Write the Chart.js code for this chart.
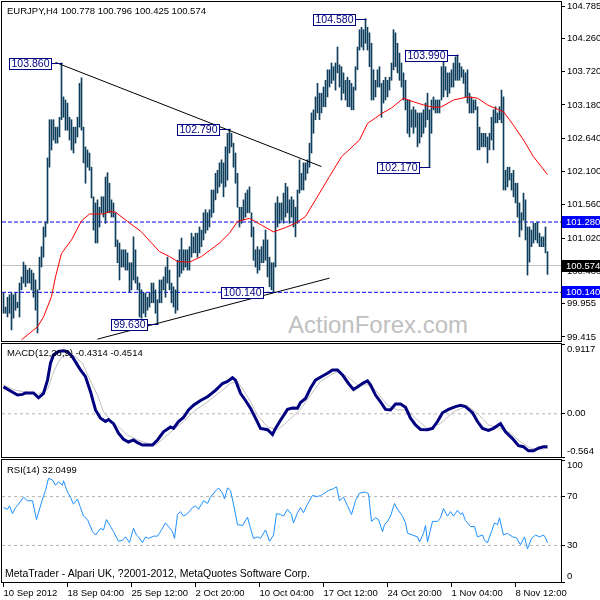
<!DOCTYPE html>
<html>
<head>
<meta charset="utf-8">
<script src="https://cdn.jsdelivr.net/npm/chart.js@4.4.1/dist/chart.umd.min.js"></script>
<style>
html, body { margin: 0; padding: 0; width: 600px; height: 600px; overflow: hidden; background: #fff; }
body { position: relative; font-family: "Liberation Sans", Arial, sans-serif; }
canvas { position: absolute; left: 0; top: -10px; }
.t { position: absolute; font-size: 9.5px; line-height: 12px; color: #000; white-space: pre; }
.wm { position: absolute; left: 288px; top: 313px; font-size: 24px; line-height: 24px; color: #c0c0c0; white-space: pre; }
</style>
</head>
<body>
<div class="wm">ActionForex.com</div>
<canvas id="cPrice" width="600" height="620"></canvas>
<canvas id="cMacd" width="600" height="620"></canvas>
<canvas id="cRsi" width="600" height="620"></canvas>
<div class="t" style="left:7px;top:5px">EURJPY,H4 100.778 100.796 100.425 100.574</div>
<div class="t" style="left:7px;top:347px">MACD(12,26,9) -0.4314 -0.4514</div>
<div class="t" style="left:7px;top:464px">RSI(14) 32.0499</div>
<div class="t" style="left:5px;top:567px;font-size:10.5px">MetaTrader - Alpari UK, ?2001-2012, MetaQuotes Software Corp.</div>
<script>
// ---- data, bar index 0 = first H4 bar on screen ----
var timeBars   = [0, 32, 64, 96, 128, 160, 192, 224, 256];
var timeLabels = ['10 Sep 2012', '18 Sep 04:00', '25 Sep 12:00', '2 Oct 20:00', '10 Oct 04:00',
                  '17 Oct 12:00', '24 Oct 20:00', '1 Nov 04:00', '8 Nov 12:00'];

var barHigh = [
  100.13, 99.90,100.06,100.10,100.13,100.10,100.13, 99.98,100.29,100.39,
  100.63,100.58,100.50,100.53,100.50,100.45,100.34,100.18,100.71,100.88,
  101.20,101.28,102.32,102.94,102.94,102.94,102.82,102.82,102.98,103.86,
  103.31,103.26,103.21,102.98,102.94,102.82,102.82,102.98,103.53,103.62,
  102.82,102.50,102.45,102.40,102.17,101.69,101.59,101.64,101.52,101.69,
  101.69,102.01,102.08,101.91,101.64,101.59,101.43,100.99,100.94,100.83,
  100.83,100.83,100.78,100.62,100.62,101.04,100.83,100.39,100.29,100.18,
  100.13,100.13,100.06,100.13,100.29,100.29,100.18,100.02,100.34,100.34,
  100.39,100.55,100.71,100.50,100.29,100.23,100.18,100.66,100.83,101.02,
  100.83,100.83,100.83,100.88,101.10,101.04,101.10,101.10,101.20,101.15,
  101.43,101.48,101.43,101.48,101.80,101.80,102.07,102.12,102.24,102.29,
  102.24,102.50,102.72,102.79,102.72,102.56,102.40,102.07,101.52,101.52,
  101.64,101.75,101.80,101.85,101.43,101.20,100.83,100.88,100.83,100.88,
  100.99,101.15,100.99,100.71,100.62,100.62,101.59,101.69,101.59,101.59,
  101.75,101.91,101.85,101.64,101.69,101.64,101.52,101.80,102.29,102.07,
  102.24,102.24,102.29,102.56,103.05,103.10,103.31,103.53,103.37,103.37,
  103.47,103.58,103.75,103.75,103.86,103.80,103.86,104.12,103.83,103.80,
  103.70,103.58,103.63,103.58,103.53,103.47,103.80,104.12,104.40,104.44,
  104.40,104.58,104.44,104.35,104.18,103.75,103.58,103.75,103.80,103.53,
  103.58,103.63,103.58,103.63,103.86,104.40,104.35,104.18,104.02,103.86,
  103.70,103.58,103.26,103.26,103.10,103.15,103.10,103.05,103.05,103.05,
  103.10,103.21,103.37,103.10,103.26,103.31,103.26,103.26,103.26,103.80,
  103.91,103.80,103.70,103.70,103.75,103.86,103.96,103.99,103.86,103.80,
  103.75,103.70,103.75,103.37,103.31,103.26,103.26,103.15,102.82,102.72,
  102.72,102.72,102.66,102.72,102.98,103.10,103.15,103.05,103.15,103.42,
  103.31,102.12,102.17,102.17,102.07,102.12,101.91,101.91,101.59,101.43,
  101.75,101.64,101.20,101.20,101.15,101.26,101.26,101.28,101.10,101.04,
  101.04,101.20,100.80
];
var barLow = [
   99.80, 99.80, 99.74, 99.80, 99.53, 99.72, 99.85, 99.89, 99.74,100.18,
  100.29,100.23,100.29,100.29,100.18,100.06, 99.85, 99.48,100.18,100.55,
  100.71,101.04,101.26,102.17,102.45,102.61,102.56,102.56,102.66,102.94,
  102.98,102.77,102.77,102.61,102.45,102.40,102.56,102.66,102.82,102.77,
  102.24,101.91,102.17,102.12,101.67,101.15,100.94,100.94,101.20,101.43,
  101.36,101.26,101.43,101.43,101.36,101.36,100.88,100.62,100.34,100.55,
  100.55,100.50,100.50,100.15,100.18,100.34,100.29,100.18, 99.74, 99.72,
   99.80, 99.74, 99.85, 99.90, 99.97, 99.97, 99.80, 99.63, 99.97, 99.97,
  100.18,100.06,100.29,100.18, 99.97, 99.90, 99.80, 99.85,100.39,100.45,
  100.50,100.55,100.50,100.50,100.71,100.78,100.78,100.71,100.78,100.88,
  100.99,101.10,101.15,101.20,101.36,101.43,101.64,101.75,101.85,101.91,
  101.69,101.85,101.96,102.40,102.50,102.17,101.91,101.52,101.20,101.26,
  101.31,101.36,101.43,101.43,101.04,100.66,100.55,100.45,100.50,100.62,
  100.62,100.66,100.39,100.23,100.18,100.14,100.55,101.20,101.26,101.31,
  101.26,101.36,101.43,101.26,101.36,101.20,101.04,101.26,101.75,101.80,
  101.80,101.96,102.07,102.17,102.40,102.72,102.94,103.05,102.94,103.05,
  103.15,103.15,103.31,103.47,103.53,103.58,103.42,103.70,103.47,103.26,
  103.37,103.26,103.15,103.15,103.10,103.10,103.42,103.75,104.07,104.12,
  104.07,104.18,104.07,103.80,103.26,103.26,103.31,103.47,103.47,102.98,
  103.21,103.26,103.31,103.42,103.58,103.75,103.80,103.70,103.58,103.47,
  103.26,103.10,102.72,102.66,102.82,102.72,102.82,102.50,102.56,102.66,
  102.72,102.82,102.94,102.17,102.72,103.10,103.05,103.05,103.05,103.26,
  103.31,103.42,103.31,103.37,103.47,103.47,103.58,103.58,103.58,103.63,
  103.53,103.31,103.21,103.05,103.05,103.05,103.10,102.45,102.45,102.50,
  102.50,102.50,102.24,102.45,102.61,102.45,102.89,102.89,102.94,102.89,
  101.80,101.80,101.85,101.96,101.80,101.69,101.59,101.36,101.04,101.15,
  101.31,100.99,100.42,100.63,100.88,100.94,100.99,100.94,100.88,100.88,
  100.88,100.78,100.43
];

var maBar = [9,17,20,24,26,29,34,39,43,50,53,56,62,69,74,78,83,87,93,99,
             108,113,117,123,129,135,141,146,151,156,163,169,178,182,186,189,194,200,205,210,
             215,219,225,232,237,242,247,250,255,260,265,272];
var maVal = [99.37,99.58,99.74,100.07,100.39,100.77,100.99,101.30,101.41,101.41,
             101.45,101.44,101.29,101.12,100.94,100.80,100.72,100.64,100.63,100.72,
             100.94,101.10,101.29,101.34,101.23,101.12,101.19,101.26,101.37,101.64,
             102.02,102.34,102.61,102.88,102.97,103.04,103.13,103.29,103.23,103.18,
             103.14,103.15,103.26,103.31,103.29,103.18,103.11,103.07,102.85,102.61,
             102.34,102.05];

var trendDownBar = [26, 159], trendDownVal = [103.87, 102.18];
var trendUpBar   = [47, 163], trendUpVal   = [99.38, 100.37];
var levelLines   = [101.28, 100.14];
var lastPrice    = 100.574;

var annoBar   = [29, 113, 77, 135, 181, 227, 213];
var annoPrice = [103.86, 102.79, 99.63, 100.14, 104.58, 103.99, 102.17];
var annoText  = ['103.860', '102.790', '99.630', '100.140', '104.580', '103.990', '102.170'];

var priceTicks = [104.785, 104.260, 103.720, 103.180, 102.640, 102.100, 101.560, 101.020, 100.480, 99.955, 99.415];

var macdBar = [0,3.5,7,9.5,11,15,17.5,20,22,23.5,25,27.5,30,32,34.5,37,38.5,41,43.5,46,
               48.5,51,52.5,55,57.5,60,62.5,65,67,69.5,74.5,77,80,83.5,85,87.5,90,92.5,95,98.5,
               102,106,109.5,112,114.5,116,118.5,121,123.5,126,128.5,132,134.5,136,138.5,142,144.5,147,148.5,151,
               153.5,156,159.5,162,164.5,167,169.5,172.5,175,177.5,180,182,183.5,186,188.5,191,193.5,196,198.5,201,
               203.5,206,208.5,212,214.5,217,219.5,222.5,226,228.5,231,234.5,237,239.5,242.5,245,248.5,251,254.5,257.5,
               260,262.5,265,267.5,270,272];
var macdVal = [0.352,0.298,0.245,0.254,0.272,0.272,0.209,0.267,0.440,0.662,
               0.769,0.813,0.822,0.813,0.742,0.636,0.573,0.485,0.289,0.050,
               -0.057,-0.101,-0.075,-0.128,-0.252,-0.332,-0.368,-0.341,-0.377,-0.408,
               -0.408,-0.341,-0.235,-0.172,-0.190,-0.101,-0.048,0.050,0.112,0.174,
               0.223,0.307,0.396,0.422,0.471,0.440,0.267,0.174,0.072,-0.057,
               -0.190,-0.208,-0.270,-0.190,-0.084,0.058,0.076,0.072,0.147,0.200,
               0.334,0.440,0.494,0.529,0.573,0.573,0.507,0.396,0.316,0.360,
               0.405,0.431,0.378,0.245,0.156,0.058,0.050,0.129,0.129,0.085,
               -0.057,-0.146,-0.204,-0.208,-0.190,-0.101,0.014,0.058,0.094,0.112,
               0.094,0.014,-0.101,-0.190,-0.217,-0.190,-0.128,-0.235,-0.323,-0.417,
               -0.430,-0.483,-0.483,-0.448,-0.430,-0.4314];
var signalBar = [0,5,10,17,22,25,28.5,32.5,36,39.5,42.5,47,50,53.5,57.5,62,67,72,76,80,
                 85,90,95,102,108.5,113.5,117,120,123.5,127.5,132,137,142,148.5,153.5,158.5,163.5,167,172,177,
                 182,186,192,197,202,207,212,218.5,225,232,237,242.5,248.5,253.5,258.5,263.5,267.5,272];
var signalVal = [0.378,0.316,0.289,0.258,0.316,0.547,0.724,0.787,0.742,0.662,
                 0.485,0.245,0.027,-0.084,-0.172,-0.279,-0.341,-0.386,-0.408,-0.319,
                 -0.208,-0.101,0.027,0.156,0.289,0.396,0.422,0.307,0.156,-0.039,
                 -0.172,-0.208,-0.101,0.058,0.245,0.422,0.507,0.547,0.485,0.378,
                 0.378,0.307,0.112,0.050,0.050,-0.084,-0.190,-0.128,0.027,0.103,
                 0.005,-0.146,-0.190,-0.252,-0.368,-0.448,-0.466,-0.4514];
var macdTicks  = [0.9117, 0, -0.564];
var macdLabels = ['0.9117', '0.00', '-0.564'];

var rsiBar = [0,2,3,4.5,6,7.5,10,12,14.5,16.5,17.5,19.5,21,22.5,24.5,26,27.5,29.5,30,32,
              33.5,35,37,38.5,40,42,44.5,46,48.5,50,51.5,53.5,55,57.5,59.5,61,63,65,66.5,67.5,
              69.5,71,72.5,75,77,79,81,82.5,84.5,85.5,87,88.5,90,92,94.5,96,97.5,100,102,103.5,
              106,107.5,109.5,110.5,112,113.5,115,117,119.5,122,123.5,125,127,128.5,131,133,135,136.5,138.5,140,
              142,144,145,147,148.5,150,152,154.5,157,158.5,160,162.5,165,166.5,168,170,172,174,176,178,
              181,182.5,184,186,187.5,189.5,190.5,192,193.5,195.5,197,199.5,201,202,204.5,207,208,210,211,212,
              214.5,217,218.5,220,222,223.5,225,227,228.5,229.5,231,233.5,235.5,237,239.5,240.5,242,244,245.5,247,
              248,250,252,254.5,256.5,258.5,260.5,262,264,266,268,270,271,272];
var rsiVal = [61,59.6,62.4,56,61,63.8,69.5,66.6,66.6,51.2,56.8,68,75,85,83.6,79.3,82.2,79.3,83,73.7,
              69.5,63.8,68,61,54,51.2,41.3,38.5,44,42.7,51.2,45.5,41.3,33.4,34.2,37,32.3,44,38.5,37,
              32.3,37,35.7,37.6,37.6,42.7,48.4,45.5,41.3,35.7,55.4,57.7,54,56,61,62.4,59.6,66.6,64.4,69.5,
              74.6,77.1,72.9,68,77.1,75,63.8,47,46.3,53.1,44,35.7,37,35.7,42.7,33.4,38.5,56,55.4,54,
              59.6,55.4,48.4,56.8,61,56.8,63.8,70.9,70,70.9,72.3,75,76.5,78,66.6,69.5,62.4,55.4,66.6,72.9,
              73.7,72.3,49.7,52.6,51.2,41.3,47,49.7,54,64.4,59.6,54,48.4,39.9,38.5,37,32.8,39.9,46.3,32.8,
              49.7,49.7,52.6,60.2,54,57.7,54,58.8,55.4,56.8,50.3,45.5,45.5,37,38.5,34.2,32.3,41.3,48.4,47,
              52.6,38.5,39.9,37,36.2,30.6,37,27.2,35.7,38.5,37,38.5,36.2,32.05];
var rsiTicks  = [100, 70, 30, 0];
var rsiLevels = [70, 30];

// ---- look ----
var FAMILY = '"Liberation Sans", Arial, sans-serif';
var NAVY = '#000080';
var BAR_COLOR = '#0f3d5c';
var X_MIN = -0.75, X_MAX = 278.75;

Chart.defaults.font.family = FAMILY;
Chart.defaults.font.size = 9.5;
Chart.defaults.color = '#000';

function pts(xs, ys) { return xs.map(function (x, k) { return { x: x, y: ys[k] }; }); }
function hline(v) { return [{ x: X_MIN, y: v }, { x: X_MAX, y: v }]; }
function line(data, color, width, order, dash) {
  return { type: 'line', data: data, borderColor: color, borderWidth: width, borderDash: dash || [],
           pointRadius: 0, tension: 0, fill: false, order: order };
}
// labels at the panel edges are pushed inside, as MetaTrader does
function edgeLabel(text, i, n) {
  if (i === 0) return ['', text];
  if (i === n - 1) return [text, ''];
  return text;
}

function xAxis(show) {
  return {
    type: 'linear', min: X_MIN, max: X_MAX, display: show, offset: false,
    grid: { drawOnChartArea: false, tickLength: 5, color: '#000', offset: false },
    border: { display: true, color: '#000' },
    ticks: { align: 'start', padding: 1, maxRotation: 0, autoSkip: false,
             callback: function (v, i) { return timeLabels[i]; } },
    afterBuildTicks: function (s) { s.ticks = timeBars.map(function (v) { return { value: v }; }); },
    afterFit: function (s) { s.height = show ? 18 : 0; }
  };
}
function yAxis(min, max, ticks, fmt) {
  return {
    type: 'linear', position: 'right', min: min, max: max, beginAtZero: false,
    grid: { drawOnChartArea: false, tickLength: 4, color: '#000' },
    border: { display: true, color: '#000' },
    ticks: { padding: 2, autoSkip: false, callback: fmt },
    afterBuildTicks: function (s) { s.ticks = ticks.map(function (v) { return { value: v }; }); },
    afterFit: function (s) { s.width = 39; }
  };
}

var frame = {
  id: 'frame',
  afterDraw: function (chart) {
    var a = chart.chartArea, ctx = chart.ctx;
    ctx.save();
    ctx.strokeStyle = '#000';
    ctx.lineWidth = 1;
    ctx.strokeRect(a.left - 0.5, a.top - 0.5, a.right - a.left + 1, a.bottom - a.top + 1);
    ctx.restore();
  }
};

var priceMarks = {
  id: 'priceMarks',
  afterDatasetsDraw: function (chart) {
    var ctx = chart.ctx, x = chart.scales.x, y = chart.scales.y;
    ctx.save();
    ctx.font = '10.5px ' + FAMILY;
    ctx.lineWidth = 1;
    annoBar.forEach(function (b, k) {
      var px = Math.round(x.getPixelForValue(b)), py = Math.round(y.getPixelForValue(annoPrice[k]));
      var w = Math.round(ctx.measureText(annoText[k]).width) + 5;
      var right = px - 10, top = py - 5;
      ctx.fillStyle = '#fff';
      ctx.fillRect(right - w, top, w, 12);
      ctx.strokeStyle = NAVY;
      ctx.strokeRect(right - w + 0.5, top + 0.5, w - 1, 11);
      ctx.beginPath();
      ctx.moveTo(right, py + 0.5);
      ctx.lineTo(px + 0.5, py + 0.5);
      ctx.stroke();
      ctx.fillStyle = NAVY;
      ctx.textAlign = 'center';
      ctx.textBaseline = 'middle';
      ctx.fillText(annoText[k], right - w / 2, top + 6.5);
    });
    ctx.restore();
  },
  afterDraw: function (chart) {
    var ctx = chart.ctx, y = chart.scales.y, a = chart.chartArea;
    ctx.save();
    ctx.font = '9.5px ' + FAMILY;
    ctx.textBaseline = 'middle';
    ctx.textAlign = 'left';
    var tags = levelLines.map(function (v) { return [v, '#0000ff']; }).concat([[lastPrice, '#000']]);
    tags.forEach(function (t) {
      var py = Math.round(y.getPixelForValue(t[0]));
      ctx.fillStyle = t[1];
      ctx.fillRect(a.right + 1, py - 6, 600 - a.right, 12);
      ctx.fillStyle = '#fff';
      ctx.fillText(t[0].toFixed(3), a.right + 5, py + 0.5);
    });
    ctx.restore();
  }
};

var common = { responsive: false, animation: false, events: [], devicePixelRatio: 1,
               plugins: { legend: { display: false }, tooltip: { enabled: false } } };

// price panel
new Chart(document.getElementById('cPrice'), {
  type: 'line',
  data: { datasets: [
    line(hline(lastPrice), '#c0c0c0', 1, 7),
    line(hline(levelLines[0]), '#0000ff', 1, 6, [4, 2]),
    line(hline(levelLines[1]), '#0000ff', 1, 6, [4, 2]),
    { type: 'bar', data: barHigh.map(function (h, i) { return { x: i, y: [barLow[i], h] }; }),
      backgroundColor: BAR_COLOR, borderWidth: 0, barThickness: 1, order: 4 },
    line(pts(maBar, maVal), '#ff0000', 1, 2),
    line(pts(trendDownBar, trendDownVal), '#000', 1, 1),
    line(pts(trendUpBar, trendUpVal), '#000', 1, 1)
  ] },
  options: Object.assign({}, common, {
    layout: { padding: { left: 2, right: 0, top: 12, bottom: 269 } },
    scales: { x: xAxis(false),
              y: yAxis(99.35, 104.85, priceTicks, function (v) { return v.toFixed(3); }) }
  }),
  plugins: [frame, priceMarks]
});

// MACD panel
new Chart(document.getElementById('cMacd'), {
  type: 'line',
  data: { datasets: [
    line(hline(0), '#b4b4b4', 1, 5, [3, 3]),
    line(pts(signalBar, signalVal), '#c0c0c0', 1, 3),
    line(pts(macdBar, macdVal), NAVY, 3, 1)
  ] },
  options: Object.assign({}, common, {
    layout: { padding: { left: 2, right: 0, top: 354, bottom: 153 } },
    scales: { x: xAxis(false),
              y: yAxis(-0.564, 0.9117, macdTicks, function (v, i) { return edgeLabel(macdLabels[i], i, macdLabels.length); }) }
  }),
  plugins: [frame]
});

// RSI panel with the time axis
new Chart(document.getElementById('cRsi'), {
  type: 'line',
  data: { datasets: [
    line(hline(rsiLevels[0]), '#b4b4b4', 1, 5, [3, 3]),
    line(hline(rsiLevels[1]), '#b4b4b4', 1, 5, [3, 3]),
    line(pts(rsiBar, rsiVal), '#1e90ff', 1, 1)
  ] },
  options: Object.assign({}, common, {
    layout: { padding: { left: 2, right: 0, top: 470, bottom: 10 } },
    scales: { x: xAxis(true),
              y: yAxis(0, 100, rsiTicks, function (v, i) { return edgeLabel(String(v), i, rsiTicks.length); }) }
  }),
  plugins: [frame]
});
</script>
</body>
</html>
